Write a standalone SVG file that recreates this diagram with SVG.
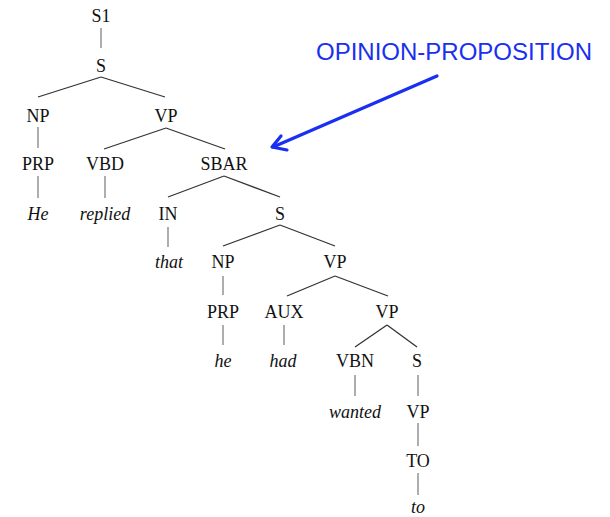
<svg xmlns="http://www.w3.org/2000/svg" width="610" height="517" viewBox="0 0 610 517">
<style>
text.n{font-family:"Liberation Serif","Times New Roman",serif;font-size:18px;fill:#111;text-anchor:middle}
text.w{font-family:"Liberation Serif","Times New Roman",serif;font-size:18px;fill:#111;text-anchor:middle;font-style:italic}
.e line{stroke:#333;stroke-width:1.3}
.e line.v{stroke:#777;stroke-width:1.2}
text.lab{font-family:"Liberation Sans",Arial,sans-serif;font-size:24px;fill:#1a2ff0}
</style>
<rect width="610" height="517" fill="#fff"/>
<g id="edges" class="e">
<line class="v" x1="101" y1="28" x2="101" y2="48"/>
<line x1="101" y1="77" x2="38" y2="97"/>
<line x1="101" y1="77" x2="165" y2="97"/>
<line class="v" x1="38" y1="127" x2="38" y2="148"/>
<line x1="166" y1="128" x2="104" y2="149"/>
<line x1="166" y1="128" x2="225" y2="149"/>
<line class="v" x1="38" y1="176" x2="38" y2="198"/>
<line class="v" x1="105" y1="176" x2="105" y2="198"/>
<line x1="224" y1="176" x2="168" y2="197"/>
<line x1="224" y1="176" x2="280" y2="197"/>
<line class="v" x1="168" y1="227" x2="168" y2="247"/>
<line x1="280" y1="225" x2="223" y2="246"/>
<line x1="280" y1="225" x2="335" y2="246"/>
<line class="v" x1="223" y1="276" x2="223" y2="295"/>
<line x1="335" y1="276" x2="287" y2="296"/>
<line x1="335" y1="276" x2="388" y2="296"/>
<line class="v" x1="223" y1="325" x2="223" y2="345"/>
<line class="v" x1="284" y1="325" x2="284" y2="345"/>
<line x1="387" y1="325" x2="355" y2="347"/>
<line x1="387" y1="325" x2="417" y2="347"/>
<line class="v" x1="355" y1="375" x2="355" y2="396"/>
<line class="v" x1="418" y1="375" x2="418" y2="396"/>
<line class="v" x1="418" y1="423" x2="418" y2="446"/>
<line class="v" x1="418" y1="473" x2="418" y2="495"/>
</g>
<g id="n-S1"><text class="n" x="101" y="22">S1</text></g>
<g id="n-S"><text class="n" x="101" y="72">S</text></g>
<g id="n-NP"><text class="n" x="38" y="122">NP</text></g>
<g id="n-VP"><text class="n" x="166" y="122">VP</text></g>
<g id="n-PRP"><text class="n" x="38" y="170">PRP</text></g>
<g id="n-VBD"><text class="n" x="105" y="170">VBD</text></g>
<g id="n-SBAR"><text class="n" x="224" y="170">SBAR</text></g>
<g id="n-He"><text class="w" x="38" y="220">He</text></g>
<g id="n-replied"><text class="w" x="105" y="220">replied</text></g>
<g id="n-IN"><text class="n" x="168" y="220">IN</text></g>
<g id="n-S2"><text class="n" x="280" y="220">S</text></g>
<g id="n-that"><text class="w" x="169" y="268">that</text></g>
<g id="n-NP2"><text class="n" x="223" y="268">NP</text></g>
<g id="n-VP2"><text class="n" x="335" y="268">VP</text></g>
<g id="n-PRP2"><text class="n" x="223" y="318">PRP</text></g>
<g id="n-AUX"><text class="n" x="284" y="318">AUX</text></g>
<g id="n-VP3"><text class="n" x="387" y="318">VP</text></g>
<g id="n-he"><text class="w" x="223" y="367">he</text></g>
<g id="n-had"><text class="w" x="283" y="367">had</text></g>
<g id="n-VBN"><text class="n" x="355" y="367">VBN</text></g>
<g id="n-S3"><text class="n" x="417" y="367">S</text></g>
<g id="n-wanted"><text class="w" x="355" y="418">wanted</text></g>
<g id="n-VP4"><text class="n" x="418" y="418">VP</text></g>
<g id="n-TO"><text class="n" x="418" y="467">TO</text></g>
<g id="n-to"><text class="w" x="418" y="513">to</text></g>
<g id="annotation">
<text class="lab" x="316" y="60">OPINION-PROPOSITION</text>
<g stroke="#1a2ff0" stroke-width="3.2" fill="none" stroke-linecap="round" stroke-linejoin="round">
<line x1="437" y1="76" x2="273" y2="147"/>
<polyline points="281,136 272,147 287,150"/>
</g>
</g>
</svg>
